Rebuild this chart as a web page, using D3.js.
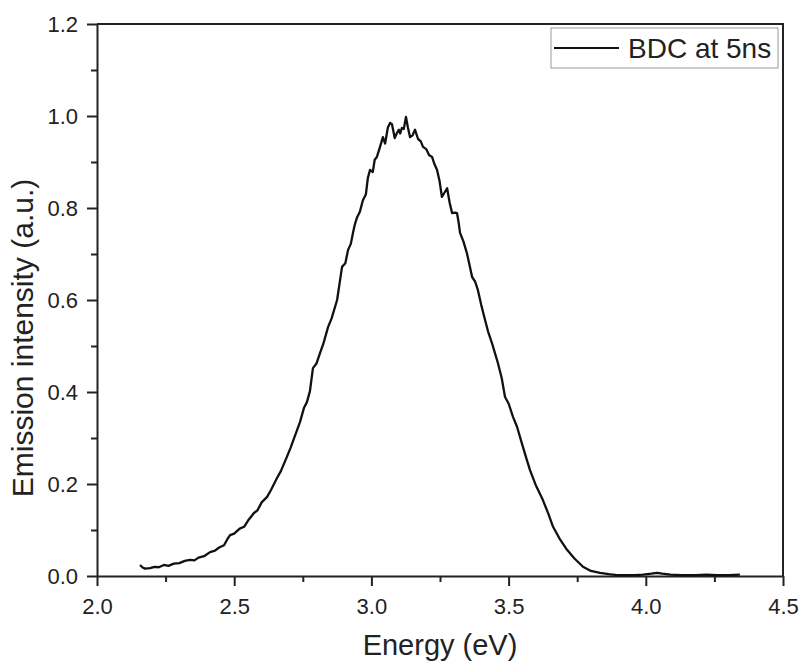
<!DOCTYPE html>
<html>
<head>
  <meta charset="utf-8">
  <style>
    body { margin: 0; background: #fff; }
    text { font-family: Arial, "Liberation Sans", sans-serif; fill: #222; }
  </style>
</head>
<body>
  <script src="https://cdn.jsdelivr.net/npm/d3@7/dist/d3.min.js"></script>
  <script>
    // tick values
    var xTicks = [2.0, 2.5, 3.0, 3.5, 4.0, 4.5];
    var xMinor = [2.25, 2.75, 3.25, 3.75, 4.25];
    var yTicks = [0.0, 0.2, 0.4, 0.6, 0.8, 1.0, 1.2];
    var yMinor = [0.1, 0.3, 0.5, 0.7, 0.9, 1.1];

    var seriesName = "BDC at 5ns";

    // spectrum
    var energy = [
      2.157, 2.165, 2.175, 2.193, 2.21, 2.225, 2.244, 2.26, 2.28, 2.30,
      2.32, 2.339, 2.355, 2.37, 2.39, 2.412, 2.43, 2.445, 2.463, 2.475,
      2.485, 2.50, 2.52, 2.536, 2.55, 2.572, 2.585, 2.60, 2.62, 2.635,
      2.656, 2.67, 2.692, 2.705, 2.729, 2.74, 2.754, 2.765, 2.776, 2.787,
      2.80, 2.813, 2.825, 2.842, 2.855, 2.875, 2.885, 2.893, 2.905, 2.915,
      2.925, 2.933, 2.94, 2.948, 2.958, 2.969, 2.98, 2.987, 2.995, 3.005,
      3.012, 3.020, 3.030, 3.042, 3.050, 3.060, 3.068, 3.075, 3.085, 3.093,
      3.100, 3.105, 3.111, 3.118, 3.126, 3.133, 3.141, 3.150, 3.159, 3.170,
      3.180, 3.188, 3.200, 3.210, 3.221, 3.230, 3.239, 3.248, 3.257, 3.265,
      3.276, 3.285, 3.294, 3.305, 3.312, 3.318, 3.323, 3.335, 3.348, 3.358,
      3.367, 3.378, 3.388, 3.400, 3.414, 3.425, 3.439, 3.450, 3.461, 3.475,
      3.487, 3.50, 3.516, 3.531, 3.55, 3.565, 3.578, 3.60, 3.625, 3.645,
      3.662, 3.685, 3.713, 3.74, 3.771, 3.80, 3.833, 3.865, 3.895, 3.93,
      3.96, 3.99, 4.02, 4.041, 4.06, 4.09, 4.13, 4.18, 4.22, 4.26,
      4.30, 4.343
    ];
    var intensity = [
      0.024, 0.019, 0.016, 0.017, 0.020, 0.019, 0.024, 0.022, 0.027, 0.028,
      0.033, 0.035, 0.034, 0.040, 0.043, 0.052, 0.055, 0.062, 0.067, 0.080,
      0.089, 0.092, 0.103, 0.107, 0.120, 0.137, 0.143, 0.160, 0.172, 0.188,
      0.213, 0.228, 0.259, 0.278, 0.317, 0.335, 0.365, 0.378, 0.402, 0.452,
      0.462, 0.485, 0.505, 0.541, 0.560, 0.600, 0.640, 0.672, 0.680, 0.709,
      0.722, 0.746, 0.765, 0.780, 0.792, 0.817, 0.830, 0.865, 0.883, 0.878,
      0.905, 0.911, 0.930, 0.954, 0.940, 0.975, 0.985, 0.982, 0.952, 0.963,
      0.970, 0.962, 0.974, 0.972, 0.998, 0.975, 0.954, 0.958, 0.970, 0.950,
      0.945, 0.933, 0.928, 0.915, 0.911, 0.895, 0.883, 0.860, 0.824, 0.832,
      0.843, 0.812, 0.789, 0.790, 0.789, 0.768, 0.746, 0.728, 0.702, 0.675,
      0.650, 0.640, 0.622, 0.590, 0.557, 0.532, 0.507, 0.485, 0.463, 0.430,
      0.389, 0.375, 0.346, 0.324, 0.285, 0.255, 0.230, 0.196, 0.165, 0.135,
      0.107, 0.082, 0.057, 0.038, 0.020, 0.011, 0.007, 0.004, 0.002, 0.002,
      0.002, 0.003, 0.005, 0.007, 0.005, 0.003, 0.002, 0.002, 0.003, 0.002,
      0.002, 0.003
    ];

    var W = 802, H = 664;
    // plot box in pixels
    var pL = 97, pR = 783, pT = 24, pB = 576;

    var x = d3.scaleLinear().domain([2.0, 4.5]).range([pL, pR]);
    var y = d3.scaleLinear().domain([0, 1.2]).range([pB, pT]);

    var svg = d3.select("body").append("svg")
      .attr("width", W)
      .attr("height", H);

    // frame (top and right sides)
    svg.append("path")
      .attr("d", "M" + pL + "," + pT + "H" + pR + "V" + pB)
      .attr("fill", "none")
      .attr("stroke", "#222")
      .attr("stroke-width", 2);

    // minor ticks
    svg.append("g")
      .attr("transform", "translate(" + pL + ",0)")
      .call(d3.axisLeft(y).tickValues(yMinor).tickSize(6).tickSizeOuter(0).tickFormat(""))
      .call(function(g) { g.select(".domain").remove(); })
      .selectAll("line").attr("stroke", "#222").attr("stroke-width", 2);

    svg.append("g")
      .attr("transform", "translate(0," + pB + ")")
      .call(d3.axisBottom(x).tickValues(xMinor).tickSize(6).tickSizeOuter(0).tickFormat(""))
      .call(function(g) { g.select(".domain").remove(); })
      .selectAll("line").attr("stroke", "#222").attr("stroke-width", 2);

    // major axes
    var yAxis = svg.append("g")
      .attr("transform", "translate(" + pL + ",0)")
      .call(d3.axisLeft(y).tickValues(yTicks).tickSize(10).tickSizeOuter(0)
        .tickPadding(9).tickFormat(d3.format(".1f")));
    yAxis.select(".domain").attr("stroke", "#222").attr("stroke-width", 2);
    yAxis.selectAll("line").attr("stroke", "#222").attr("stroke-width", 2);
    yAxis.selectAll("text").style("font-size", "22px").attr("fill", "#222");

    var xAxis = svg.append("g")
      .attr("transform", "translate(0," + pB + ")")
      .call(d3.axisBottom(x).tickValues(xTicks).tickSize(10).tickSizeOuter(0)
        .tickPadding(12).tickFormat(d3.format(".1f")));
    xAxis.select(".domain").attr("stroke", "#222").attr("stroke-width", 2);
    xAxis.selectAll("line").attr("stroke", "#222").attr("stroke-width", 2);
    xAxis.selectAll("text").style("font-size", "22px").attr("fill", "#222");

    // axis titles
    svg.append("text")
      .attr("x", (pL + pR) / 2)
      .attr("y", 655)
      .attr("text-anchor", "middle")
      .style("font-size", "29px")
      .text("Energy (eV)");

    // y title sits a bit below the middle of the axis in the original
    svg.append("text")
      .attr("transform", "translate(33,338) rotate(-90)")
      .attr("text-anchor", "middle")
      .style("font-size", "30px")
      .text("Emission intensity (a.u.)");

    // spectrum line
    var pts = energy.map(function(e, i) { return [e, intensity[i]]; });
    var line = d3.line()
      .x(function(d) { return x(d[0]); })
      .y(function(d) { return y(d[1]); });

    svg.append("path")
      .datum(pts)
      .attr("d", line)
      .attr("fill", "none")
      .attr("stroke", "#111")
      .attr("stroke-width", 2.3)
      .attr("stroke-linejoin", "round");

    // legend
    var lg = svg.append("g");
    lg.append("rect")
      .attr("x", 551).attr("y", 28)
      .attr("width", 227).attr("height", 40)
      .attr("fill", "#fff")
      .attr("stroke", "#999")
      .attr("stroke-width", 1);
    lg.append("line")
      .attr("x1", 554).attr("x2", 619)
      .attr("y1", 48).attr("y2", 48)
      .attr("stroke", "#111")
      .attr("stroke-width", 2);
    lg.append("text")
      .attr("x", 628).attr("y", 58)
      .style("font-size", "28px")
      .text(seriesName);
  </script>
</body>
</html>
